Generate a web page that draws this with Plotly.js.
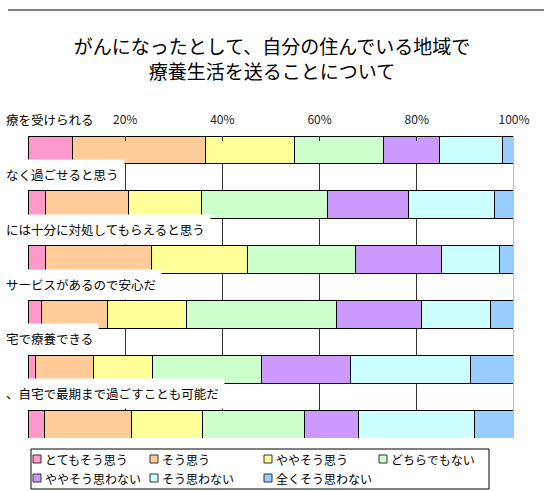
<!DOCTYPE html>
<html>
<head>
<meta charset="utf-8">
<script src="https://cdn.plot.ly/plotly-3.0.1.min.js"></script>
<style>html,body{margin:0;padding:0;background:#fff;}#chart{width:544px;height:491px;}</style>
</head>
<body>
<div id="chart"></div>
<script>
// Row labels (left part cut off in the reference, as shown)
const categories = [
  "療を受けられる",
  "なく過ごせると思う",
  "には十分に対処してもらえると思う",
  "サービスがあるので安心だ",
  "宅で療養できる",
  "、自宅で最期まで過ごすことも可能だ"
];
const seriesNames = ["とてもそう思う","そう思う","ややそう思う","どちらでもない","ややそう思わない","そう思わない","全くそう思わない"];
// percentages per series, one value per category (top to bottom)
const s1 = [9.1, 3.6, 3.6, 2.7, 1.5, 3.4];
const s2 = [27.4, 17.0, 21.8, 13.7, 12.0, 17.9];
const s3 = [18.3, 15.2, 19.7, 16.3, 12.1, 14.7];
const s4 = [18.3, 25.9, 22.3, 30.8, 22.5, 20.8];
const s5 = [11.5, 16.6, 17.6, 17.5, 18.2, 11.2];
const s6 = [13.0, 17.6, 12.1, 14.2, 24.7, 23.8];
const s7 = [2.5, 4.2, 2.9, 4.8, 9.0, 8.2];
const tickVals = [20, 40, 60, 80, 100];
const tickText = ["20%", "40%", "60%", "80%", "100%"];

const colors = ["#FF99CC","#FFCC99","#FFFF99","#CCFFCC","#CC99FF","#CCFFFF","#99CCFF"];
const series = [s1,s2,s3,s4,s5,s6,s7];
const yIdx = categories.map((c,i)=>i);
const FONT = '"Noto Sans CJK JP", sans-serif';

const traces = series.map((vals,k)=>({
  type:'bar', orientation:'h', name: seriesNames[k],
  x: vals, y: yIdx, width: 0.5,
  marker:{color: colors[k], line:{color:'#000', width:1}},
  hoverinfo:'skip', showlegend:false
}));

// plot area: left 28, right 514, top 136, bottom 438 (pixels)
const PL = 28, PW = 486, PB = 438, PH = 302;
const px = v => (v - PL) / PW;
const py = v => (PB - v) / PH;
// y range [5.25, -0.25] -> paper coordinate of category position
const yToPaper = v => (5.25 - v) / 5.5;

const annotations = categories.map((c,i)=>({
  text: c, xref:'paper', x: px(0), xanchor:'left',
  yref:'paper', y: yToPaper(i - 0.5), yanchor:'middle', yshift: 3,
  showarrow:false, bgcolor:'#fff', borderpad:5,
  font:{size:12.5, color:'#000', family:FONT}
}));

const shapes = [
  {type:'line', xref:'paper', yref:'paper', x0:px(8), x1:px(544), y0:py(10), y1:py(10), line:{color:'#000', width:1}},
  {type:'line', xref:'x', yref:'paper', x0:100, x1:100, y0:0, y1:1, line:{color:'#c0c0c0', width:2}, layer:'above'},
  // legend box
  {type:'rect', xref:'paper', yref:'paper', x0:px(31), x1:px(489), y0:py(449), y1:py(489), line:{color:'#000', width:1}, fillcolor:'#fff'}
];

// legend entries: 4 columns, 2 rows
const colX = [33, 150, 264, 379];
const rowY = [459, 478];
seriesNames.forEach((name,k)=>{
  const cx = colX[k % 4], cy = rowY[Math.floor(k / 4)];
  shapes.push({type:'rect', xref:'paper', yref:'paper', x0:px(cx), x1:px(cx+8), y0:py(cy+4), y1:py(cy-4),
    line:{color:'#333', width:1}, fillcolor:colors[k]});
  annotations.push({text:name, xref:'paper', x:px(cx+10), xanchor:'left', yref:'paper', y:py(cy), yanchor:'middle',
    showarrow:false, font:{size:12, color:'#000', family:FONT}});
});

const layout = {
  width:544, height:491,
  margin:{l:28, r:30, t:136, b:53, autoexpand:false},
  paper_bgcolor:'#fff', plot_bgcolor:'#fff',
  font:{family:FONT, color:'#000'},
  barmode:'stack', bargap:0.5,
  title:{text:'がんになったとして、自分の住んでいる地域で<br>療養生活を送ることについて',
    x:0.5, xref:'container', xanchor:'center', y:1-54/491, yref:'container', yanchor:'middle',
    font:{size:19, color:'#000'}},
  xaxis:{range:[0,100], side:'top', tickvals:tickVals, ticktext:tickText,
    ticks:'inside', ticklen:5, tickcolor:'#333', gridcolor:'#333', gridwidth:1,
    showline:false, zeroline:false, ticklabelstandoff:9,
    tickfont:{size:12, color:'#222'}, fixedrange:true},
  yaxis:{range:[5.25,-0.25], showticklabels:false, showgrid:false, zeroline:false, ticks:'', fixedrange:true},
  showlegend:false,
  annotations: annotations,
  shapes: shapes
};

Plotly.newPlot('chart', traces, layout, {displayModeBar:false, staticPlot:true});
</script>
</body>
</html>
